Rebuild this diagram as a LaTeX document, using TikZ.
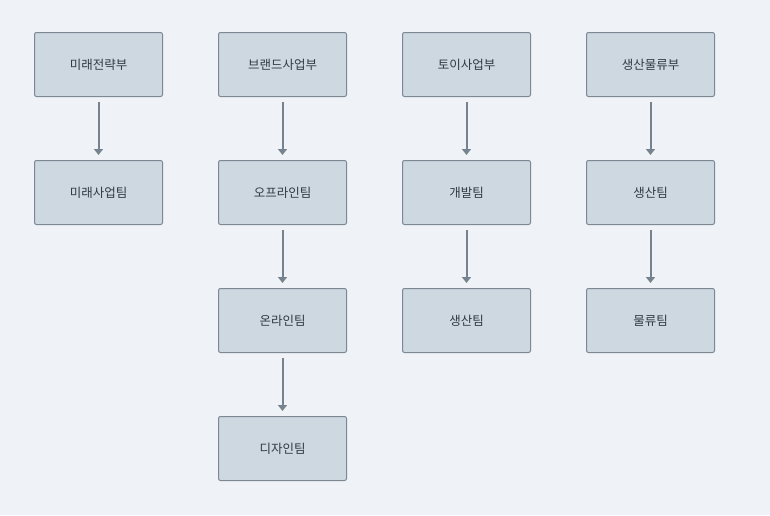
\documentclass[tikz,border=0pt]{standalone}
\usepackage{fontspec}
\newfontfamily\krfont{Noto Sans CJK KR}
\usetikzlibrary{arrows.meta}
\definecolor{bgcol}{HTML}{EFF3F7}
\definecolor{boxfill}{HTML}{CDD8E1}
\definecolor{boxline}{HTML}{7D8894}
\definecolor{arrowcol}{HTML}{76838F}
\definecolor{txtcol}{HTML}{333A40}
\tikzset{
  unit/.style={draw=boxline, fill=boxfill, line width=1pt, rounded corners=2pt,
    minimum width=128pt, minimum height=64pt, inner sep=0pt,
    font=\krfont\fontsize{12.5}{14}\selectfont, text=txtcol},
  link/.style={draw=arrowcol, line width=2pt,
    -{Triangle[width=9pt,length=6pt]}, shorten <=5pt, shorten >=5pt}
}
\begin{document}
\begin{tikzpicture}[x=1pt,y=-1pt]
  \fill[bgcol] (0,0) rectangle (770,515);
  \useasboundingbox (0,0) rectangle (770,515);
  % column 1
  \node[unit] (a1) at (98.5,64.5) {미래전략부};
  \node[unit] (a2) at (98.5,192.5) {미래사업팀};
  % column 2
  \node[unit] (b1) at (282.5,64.5) {브랜드사업부};
  \node[unit] (b2) at (282.5,192.5) {오프라인팀};
  \node[unit] (b3) at (282.5,320.5) {온라인팀};
  \node[unit] (b4) at (282.5,448.5) {디자인팀};
  % column 3
  \node[unit] (c1) at (466.5,64.5) {토이사업부};
  \node[unit] (c2) at (466.5,192.5) {개발팀};
  \node[unit] (c3) at (466.5,320.5) {생산팀};
  % column 4
  \node[unit] (d1) at (650.5,64.5) {생산물류부};
  \node[unit] (d2) at (650.5,192.5) {생산팀};
  \node[unit] (d3) at (650.5,320.5) {물류팀};
  % connectors
  \draw[link] (a1) -- (a2);
  \draw[link] (b1) -- (b2);
  \draw[link] (b2) -- (b3);
  \draw[link] (b3) -- (b4);
  \draw[link] (c1) -- (c2);
  \draw[link] (c2) -- (c3);
  \draw[link] (d1) -- (d2);
  \draw[link] (d2) -- (d3);
\end{tikzpicture}
\end{document}
